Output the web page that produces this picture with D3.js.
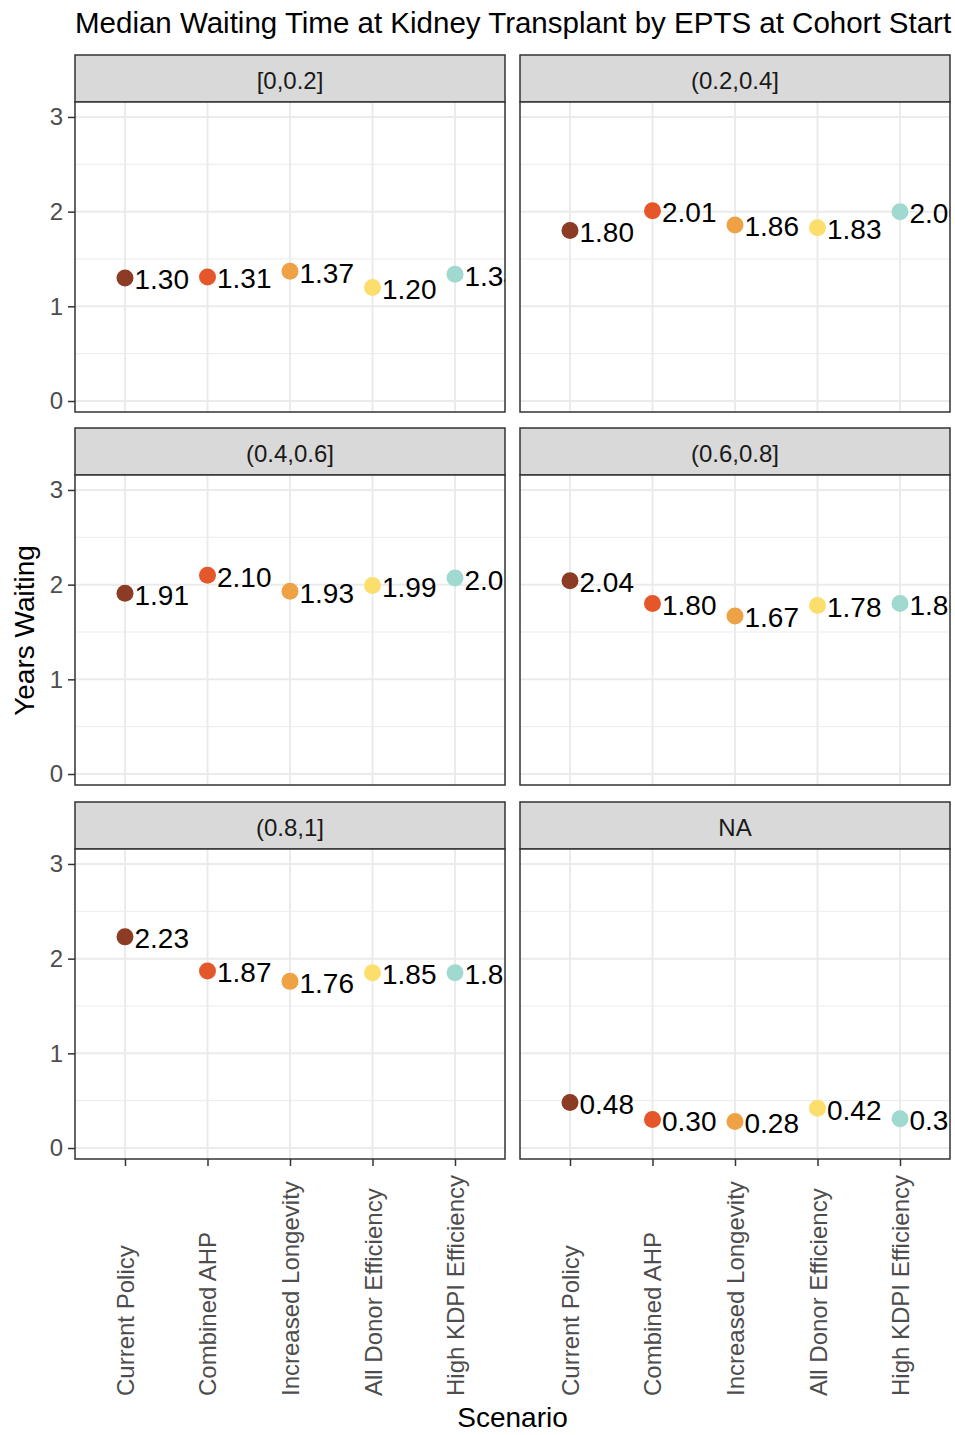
<!DOCTYPE html>
<html>
<head>
<meta charset="utf-8">
<script src="https://cdn.jsdelivr.net/npm/d3@7"></script>
<style>
  html, body { margin: 0; padding: 0; background: #fff; }
  svg { display: block; font-family: "Liberation Sans", Arial, sans-serif; }
</style>
</head>
<body>
<svg id="chart" width="955" height="1435"></svg>
<script>
// ---- data ----
const facets = ["[0,0.2]", "(0.2,0.4]", "(0.4,0.6]", "(0.6,0.8]", "(0.8,1]", "NA"];
const scenarios = ["Current Policy", "Combined AHP", "Increased Longevity", "All Donor Efficiency", "High KDPI Efficiency"];
const scenarioColors = ["#8C3B24", "#E5572B", "#EFA145", "#FBDE6C", "#A0D9CF"];
// values per scenario, in facet order
const currentPolicy      = [1.30, 1.80, 1.91, 2.04, 2.23, 0.48];
const combinedAHP        = [1.31, 2.01, 2.10, 1.80, 1.87, 0.30];
const increasedLongevity = [1.37, 1.86, 1.93, 1.67, 1.76, 0.28];
const allDonorEfficiency = [1.20, 1.83, 1.99, 1.78, 1.85, 0.42];
const highKDPIEfficiency = [1.34, 2.00, 2.07, 1.80, 1.85, 0.31];
const yTicks = [0, 1, 2, 3];
const yMinor = [0.5, 1.5, 2.5];
const titleText = "Median Waiting Time at Kidney Transplant by EPTS at Cohort Start";
const xTitle = "Scenario";
const yTitle = "Years Waiting";

const series = [currentPolicy, combinedAHP, increasedLongevity, allDonorEfficiency, highKDPIEfficiency];

// ---- layout ----
const svg = d3.select("#chart");
const colX = [75, 520];
const panelW = 430;
const stripTop = [55, 428, 802];
const stripH = 47;
const panelH = 310;

const x = d3.scalePoint().domain(scenarios).range([0, panelW]).padding(0.606);
const y = d3.scaleLinear().domain([-0.116, 3.158]).range([panelH, 0]);
const fmt = d3.format(".2f");

const defs = svg.append("defs");

facets.forEach((f, i) => {
  const col = i % 2, row = Math.floor(i / 2);
  const px = colX[col];
  const sy = stripTop[row];
  const py = sy + stripH;

  // strip
  svg.append("rect")
    .attr("x", px).attr("y", sy).attr("width", panelW).attr("height", stripH)
    .attr("fill", "#D9D9D9").attr("stroke", "#333333").attr("stroke-width", 1.5);
  svg.append("text")
    .attr("x", px + panelW / 2).attr("y", sy + stripH / 2 + 1.5)
    .attr("dy", "0.36em")
    .attr("text-anchor", "middle")
    .attr("font-size", 24).attr("fill", "#1A1A1A")
    .text(f);

  const g = svg.append("g").attr("transform", `translate(${px},${py})`);
  g.append("rect").attr("width", panelW).attr("height", panelH).attr("fill", "#fff");

  // grid
  g.selectAll(".minor").data(yMinor).enter().append("line")
    .attr("x1", 0).attr("x2", panelW)
    .attr("y1", d => y(d)).attr("y2", d => y(d))
    .attr("stroke", "#EBEBEB").attr("stroke-width", 1);
  g.selectAll(".major").data(yTicks).enter().append("line")
    .attr("x1", 0).attr("x2", panelW)
    .attr("y1", d => y(d)).attr("y2", d => y(d))
    .attr("stroke", "#EBEBEB").attr("stroke-width", 2);
  g.selectAll(".vmajor").data(scenarios).enter().append("line")
    .attr("y1", 0).attr("y2", panelH)
    .attr("x1", d => x(d)).attr("x2", d => x(d))
    .attr("stroke", "#EBEBEB").attr("stroke-width", 2);

  // clip (labels are cut at the panel edge, as in the original)
  const cid = "clip" + i;
  defs.append("clipPath").attr("id", cid)
    .append("rect").attr("width", panelW).attr("height", panelH);
  const content = g.append("g").attr("clip-path", `url(#${cid})`);

  const pts = scenarios.map((s, k) => ({ s, v: series[k][i], c: scenarioColors[k] }));
  content.selectAll("circle").data(pts).enter().append("circle")
    .attr("cx", d => x(d.s)).attr("cy", d => y(d.v))
    .attr("r", 8.5).attr("fill", d => d.c);
  content.selectAll("text").data(pts).enter().append("text")
    .attr("x", d => x(d.s) + 9.5).attr("y", d => y(d.v) + 11.5)
    .attr("font-size", 28).attr("fill", "#000")
    .text(d => fmt(d.v));

  // border
  g.append("rect").attr("width", panelW).attr("height", panelH)
    .attr("fill", "none").attr("stroke", "#333333").attr("stroke-width", 1.5);

  // y axis (left column only)
  if (col === 0) {
    const ya = d3.axisLeft(y).tickValues(yTicks).tickSize(7).tickPadding(5).tickFormat(d3.format("d"));
    const ag = g.append("g").call(ya);
    ag.select(".domain").remove();
    ag.selectAll(".tick line").attr("stroke", "#333333").attr("stroke-width", 1.5);
    ag.selectAll(".tick text").attr("font-size", 24).attr("fill", "#4D4D4D")
      .attr("font-family", "Liberation Sans, Arial, sans-serif");
  }
  // x axis (bottom row only)
  if (row === 2) {
    const xa = d3.axisBottom(x).tickSize(7).tickFormat("");
    const ag = g.append("g").attr("transform", `translate(0,${panelH})`).call(xa);
    ag.select(".domain").remove();
    ag.selectAll(".tick line").attr("stroke", "#333333").attr("stroke-width", 1.5);
    g.selectAll(".xlab").data(scenarios).enter().append("text")
      .attr("transform", d => `translate(${x(d) + 9},${1396 - py}) rotate(-90)`)
      .attr("text-anchor", "start")
      .attr("font-size", 24).attr("fill", "#4D4D4D")
      .text(d => d);
  }
});

// titles
svg.append("text").attr("x", 75).attr("y", 33)
  .attr("font-size", 29.5).attr("fill", "#000").text(titleText);
svg.append("text").attr("x", (colX[0] + colX[1] + panelW) / 2).attr("y", 1427)
  .attr("text-anchor", "middle").attr("font-size", 28).attr("fill", "#000").text(xTitle);
svg.append("text")
  .attr("transform", `translate(34,${(stripTop[0] + stripH + stripTop[2] + stripH + panelH) / 2}) rotate(-90)`)
  .attr("text-anchor", "middle").attr("font-size", 28).attr("fill", "#000").text(yTitle);
</script>
</body>
</html>
